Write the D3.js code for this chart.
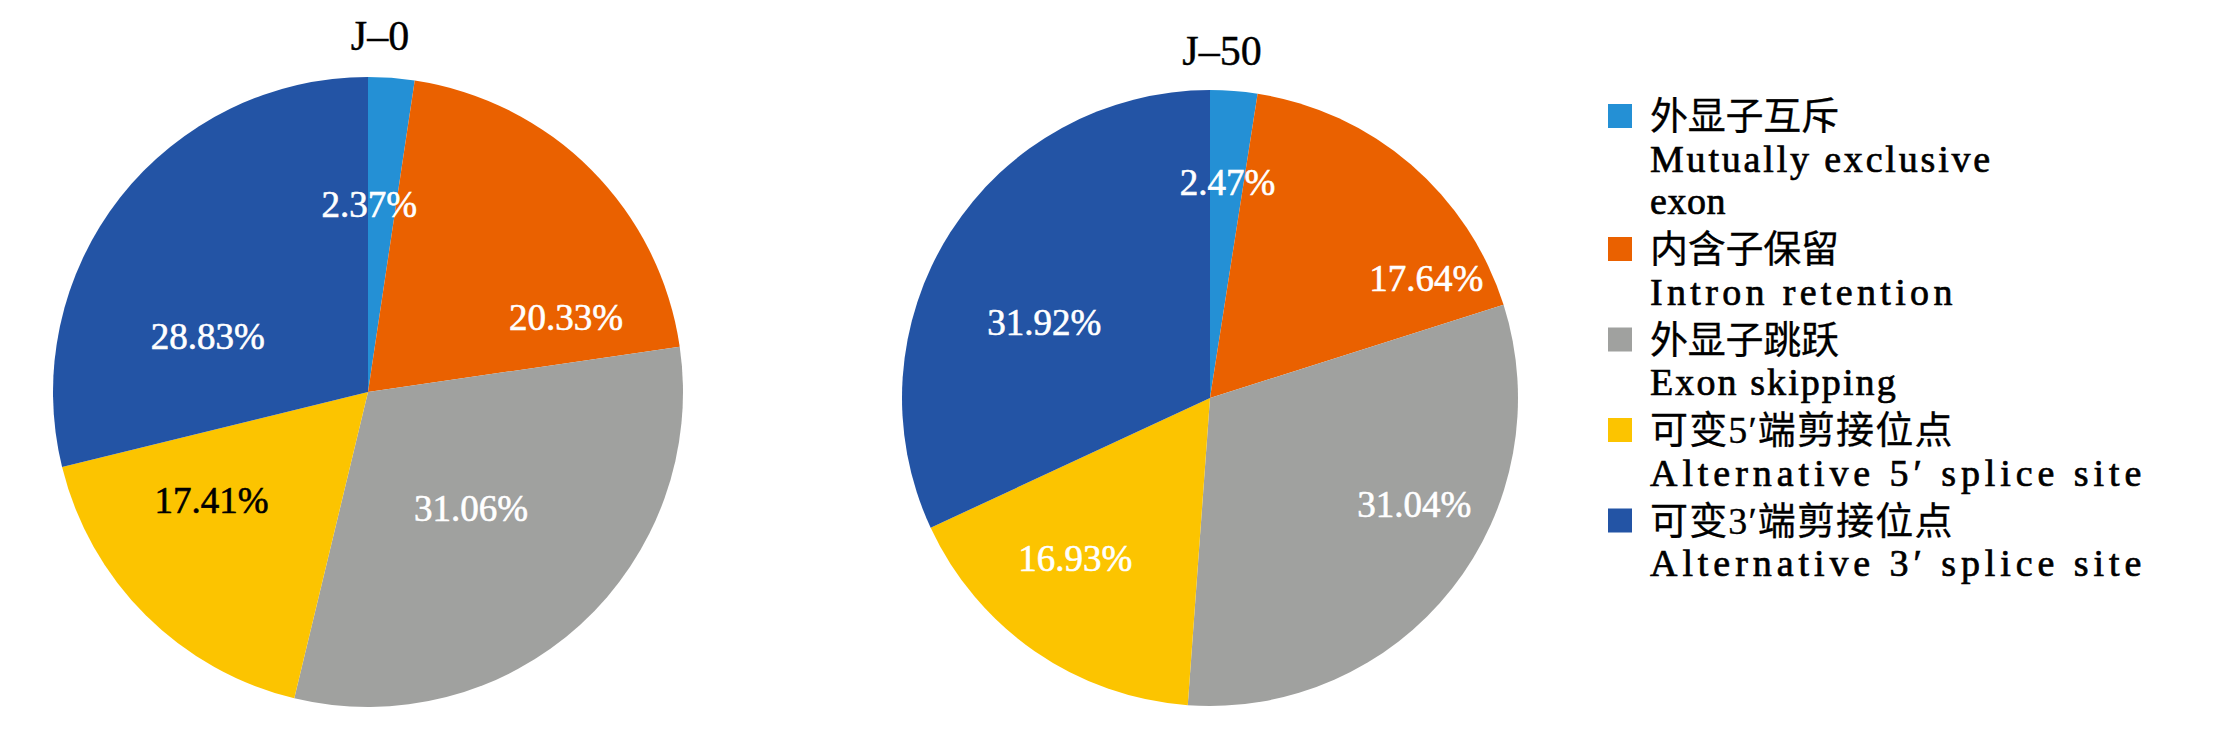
<!DOCTYPE html>
<html>
<head>
<meta charset="utf-8">
<script src="https://cdn.jsdelivr.net/npm/d3@7/dist/d3.min.js"></script>
<style>
  html, body { margin: 0; padding: 0; background: #fff; }
  svg { display: block; }
</style>
</head>
<body>
<script>
// ---------- data ----------
const categoriesZh = ["外显子互斥", "内含子保留", "外显子跳跃", "可变5′端剪接位点", "可变3′端剪接位点"];
const categoriesEn = [["Mutually exclusive", "exon"], ["Intron retention"], ["Exon skipping"], ["Alternative 5′ splice site"], ["Alternative 3′ splice site"]];
const pieTitles = ["J–0", "J–50"];
const valuesJ0 = [2.37, 20.33, 31.06, 17.41, 28.83];
const valuesJ50 = [2.47, 17.64, 31.04, 16.93, 31.92];
const colors = ["#2490d5", "#ea6100", "#a0a19f", "#fcc400", "#2354a5"];
const labelColorsJ0 = ["#fff", "#fff", "#fff", "#000", "#fff"];
const labelColorsJ50 = ["#fff", "#fff", "#fff", "#fff", "#fff"];

// ---------- layout ----------
const W = 2217, H = 732;
const pies = [
  { title: pieTitles[0], values: valuesJ0, labelColors: labelColorsJ0, cx: 368, cy: 392, r: 315, titleY: 50,
    nudge: [[-14, 17], [53, 70], [-35, -35], [-12, -37], [1, 71]] },
  { title: pieTitles[1], values: valuesJ50, labelColors: labelColorsJ50, cx: 1210, cy: 398, r: 308, titleY: 65,
    nudge: [[2, -16], [86, 32], [47, -17], [-21, -4], [3, 32]] }
];
const latin = '"Liberation Serif", "Times New Roman", serif';
const mixed = '"Liberation Serif", "Noto Sans CJK SC", serif';

const svg = d3.select("body").append("svg").attr("width", W).attr("height", H);

const pieGen = d3.pie().sort(null).value(d => d);

pies.forEach(p => {
  const g = svg.append("g").attr("transform", `translate(${p.cx},${p.cy})`);
  const arc = d3.arc().innerRadius(0).outerRadius(p.r);
  const labelArc = d3.arc().innerRadius(p.r * 0.65).outerRadius(p.r * 0.65);
  const arcs = pieGen(p.values);

  g.selectAll("path.slice").data(arcs).join("path")
    .attr("class", "slice")
    .attr("d", arc)
    .attr("fill", (d, i) => colors[i]);

  g.selectAll("text.lbl").data(arcs).join("text")
    .attr("class", "lbl")
    .attr("x", (d, i) => labelArc.centroid(d)[0] + p.nudge[i][0])
    .attr("y", (d, i) => labelArc.centroid(d)[1] + p.nudge[i][1])
    .attr("text-anchor", "middle")
    .attr("dominant-baseline", "central")
    .attr("font-family", latin)
    .attr("font-size", 37)
    .attr("fill", (d, i) => p.labelColors[i])
    .attr("stroke", (d, i) => p.labelColors[i])
    .attr("stroke-width", 0.6)
    .text(d => d.data.toFixed(2) + "%");

  svg.append("text")
    .attr("x", p.cx + 12)
    .attr("y", p.titleY)
    .attr("text-anchor", "middle")
    .attr("font-family", latin)
    .attr("font-size", 42)
    .attr("fill", "#000")
    .attr("stroke", "#000")
    .attr("stroke-width", 0.4)
    .text(p.title);
});

// ---------- legend ----------
const legendX = 1650, squareX = 1608, squareSize = 24;
const lineH = 42.5, itemGap = 5.5, firstBase = 129;
const charW = 18.9;
const unitWidth = s => Array.from(s).reduce((a, c) => a + (/[\u3000-\u9fff]/.test(c) ? 2 : 1), 0) * charW;

let base = firstBase;
const legend = svg.append("g");
categoriesZh.forEach((zh, i) => {
  legend.append("rect")
    .attr("x", squareX).attr("y", base - 13 - squareSize / 2)
    .attr("width", squareSize).attr("height", squareSize)
    .attr("fill", colors[i]);
  const lines = [zh].concat(categoriesEn[i]);
  lines.forEach((t, j) => {
    legend.append("text")
      .attr("x", legendX).attr("y", base)
      .attr("font-family", mixed)
      .attr("font-size", 38)
      .attr("fill", "#000")
      .attr("stroke", "#000")
      .attr("stroke-width", j === 0 ? 0.3 : 0.7)
      .attr("textLength", unitWidth(t))
      .attr("lengthAdjust", "spacing")
      .text(t);
    if (j < lines.length - 1) base += lineH;
  });
  base += lineH + itemGap;
});
</script>
</body>
</html>
